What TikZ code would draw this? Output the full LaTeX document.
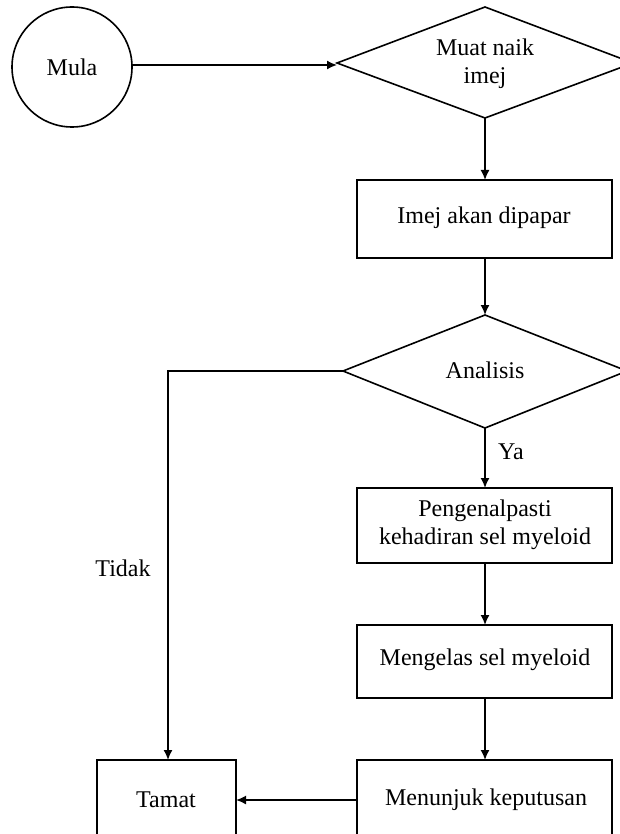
\documentclass[tikz,border=0pt]{standalone}
\usepackage{fontspec}
\setmainfont{Liberation Serif}
\usetikzlibrary{arrows.meta}
\begin{document}
\begin{tikzpicture}[x=1pt,y=-1pt,
  every node/.style={font=\fontsize{24}{28}\selectfont},
  line/.style={line width=1.6pt},
  arr/.style={line width=1.6pt,-{Latex[length=10pt,width=9pt]}}
]
\useasboundingbox (0,0) rectangle (620,834);
\begin{scope}
\clip (0,0) rectangle (620,834);
% shapes
\draw[line] (72,67) circle (60);
\node (mula) at (72,67) {Mula};
\coordinate (mulaE) at (132,65);

\draw[line] (337,63) -- (485,7) -- (633,63) -- (485,118) -- cycle;
\coordinate (d1W) at (337,65);
\coordinate (d1S) at (485,118);
\node[align=center] (d1) at (485,64) {Muat naik\\imej};

\draw[line] (357,180) rectangle (612,258);
\coordinate (b1N) at (485,180);
\coordinate (b1S) at (485,258);
\node (b1) at (484,218) {Imej akan dipapar};

\draw[line] (343,371) -- (485,315) -- (627,371) -- (485,428) -- cycle;
\coordinate (d2N) at (485,315);
\coordinate (d2W) at (343,371);
\coordinate (d2S) at (485,428);
\node (d2) at (485,370) {Analisis};

\draw[line] (357,488) rectangle (612,563);
\coordinate (b2N) at (485,488);
\coordinate (b2S) at (485,563);
\node[align=center] (b2) at (485,525) {Pengenalpasti\\kehadiran sel myeloid};

\draw[line] (357,625) rectangle (612,698);
\coordinate (b3N) at (485,625);
\coordinate (b3S) at (485,698);
\node (b3) at (485,660) {Mengelas sel myeloid};

\draw[line] (357,760) rectangle (612,850);
\coordinate (b4N) at (485,760);
\coordinate (b4W) at (357,800);
\node (b4) at (486,800) {Menunjuk keputusan};

\draw[line] (97,760) rectangle (236,850);
\coordinate (tN) at (168,760);
\coordinate (tE) at (236,800);
\node (tamat) at (166,800) {Tamat};
\end{scope}

% connectors
\draw[arr] (mulaE) -- (d1W);
\draw[arr] (d1S) -- (b1N);
\draw[arr] (b1S) -- (d2N);
\draw[arr] (d2W) -- (168,371) -- (tN);
\draw[arr] (d2S) -- (b2N);
\draw[arr] (b2S) -- (b3N);
\draw[arr] (b3S) -- (b4N);
\draw[arr] (b4W) -- (tE);

\node (ya) at (511,452) {Ya};
\node (tidak) at (123,568) {Tidak};
\end{tikzpicture}
\end{document}
